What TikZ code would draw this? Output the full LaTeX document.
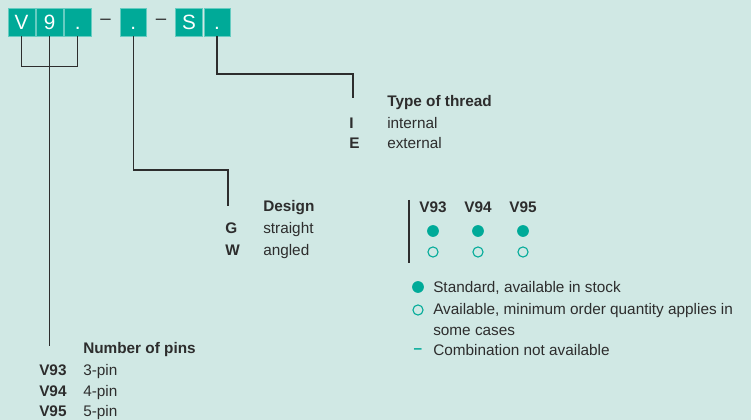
\documentclass[tikz,border=0pt]{standalone}
\usepackage{fontspec}
\setmainfont{Liberation Sans}
\usetikzlibrary{positioning, calc}

\definecolor{mint}{RGB}{208,232,228}
\definecolor{petrol}{RGB}{0,170,152}
\definecolor{ink}{RGB}{45,45,45}

\begin{document}
\begin{tikzpicture}[x=0.75pt, y=-0.75pt,
    code/.style={rectangle, fill=petrol, draw=petrol!60!white, line width=0.3pt, minimum width=20pt, minimum height=21pt, inner sep=0pt, text height=11pt, text depth=0pt, text=white, font=\fontsize{15.5}{16}\selectfont},
    sep/.style={inner sep=0pt, text=ink, font=\fontsize{14}{14}\selectfont},
    leader/.style={draw=ink, line width=1pt},
    head/.style={anchor=base west, inner sep=0pt, text=ink, font=\bfseries\fontsize{11.5}{12}\selectfont},
    key/.style={anchor=base west, inner sep=0pt, text=ink, font=\bfseries\fontsize{11.5}{12}\selectfont},
    txt/.style={anchor=base west, inner sep=0pt, text=ink, font=\fontsize{11.5}{12}\selectfont},
    full/.style={circle, fill=petrol, minimum size=8.8pt, inner sep=0pt},
    hollow/.style={circle, draw=petrol, line width=0.8pt, minimum size=7.6pt, inner sep=0pt}
]
    % Background and frame
    \fill[mint] (0,0) rectangle (751,420);
    \useasboundingbox (0,0) rectangle (751,420);

    % Order code boxes
    \node[code] (boxV) at (21.5,22) {V};
    \node[code, right=0.8pt of boxV] (box9) {9};
    \node[code, right=0.8pt of box9] (boxP1) {.};
    \node[sep, right=6.6pt of boxP1] (sepA) {--};
    \node[code, right=6.6pt of sepA] (boxP2) {.};
    \node[sep, right=6.6pt of boxP2] (sepB) {--};
    \node[code, right=6.6pt of sepB] (boxS) {S};
    \node[code, right=0.8pt of boxS] (boxP3) {.};

    % Leader ends
    \coordinate (pinsEnd) at (box9.south |- 0,346);
    \coordinate (designBend) at (228,170);
    \coordinate (designEnd) at (228,206);
    \coordinate (threadBend) at (353,74);
    \coordinate (threadEnd) at (353,98);

    % Leaders
    \draw[leader] (boxV.south) -- ++(0,30) -| (boxP1.south);
    \draw[leader] (box9.south) -- (pinsEnd);
    \draw[leader] (boxP2.south) |- (designBend) -- (designEnd);
    \draw[leader] (boxP3.south) |- (threadBend) -- (threadEnd);

    % Type of thread
    \node[head] (hdThread) at (387,107) {Type of thread};
    \node[key] (keyI) at (349,129) {I};
    \node[txt] (txtI) at (387,129) {internal};
    \node[key] (keyE) at (349,149) {E};
    \node[txt] (txtE) at (387,149) {external};

    % Design
    \node[head] (hdDesign) at (263,212) {Design};
    \node[key] (keyG) at (225,234) {G};
    \node[txt] (txtG) at (263,234) {straight};
    \node[key] (keyW) at (225,256) {W};
    \node[txt] (txtW) at (263,256) {angled};

    % Number of pins
    \node[head] (hdPins) at (83,354) {Number of pins};
    \node[key] (keyV93) at (39,376) {V93};
    \node[txt] (txtV93) at (83,376) {3-pin};
    \node[key] (keyV94) at (39,397) {V94};
    \node[txt] (txtV94) at (83,397) {4-pin};
    \node[key] (keyV95) at (39,417) {V95};
    \node[txt] (txtV95) at (83,417) {5-pin};

    % Availability table
    \draw[leader] (409,200) -- (409,263);
    \foreach \n/\x in {93/433, 94/478, 95/523} {
        \node[key, anchor=base] (colV\n) at (\x,213) {V\n};
        \node[full] (std\n) at (\x,231) {};
        \node[hollow] (moq\n) at (\x,252) {};
    }

    % Legend
    \node[full] (lgFull) at (418,287) {};
    \node[txt] (lgStd) at (433,293) {Standard, available in stock};
    \node[hollow] (lgHollow) at (418,310) {};
    \node[txt] (lgMoq) at (433,315) {Available, minimum order quantity applies in};
    \node[txt] (lgMoqB) at (433,336) {some cases};
    \node[inner sep=0pt, text=petrol, font=\bfseries\fontsize{11.5}{12}\selectfont] (lgDash) at (418,351) {--};
    \node[txt] (lgNone) at (433,356) {Combination not available};

\end{tikzpicture}
\end{document}
